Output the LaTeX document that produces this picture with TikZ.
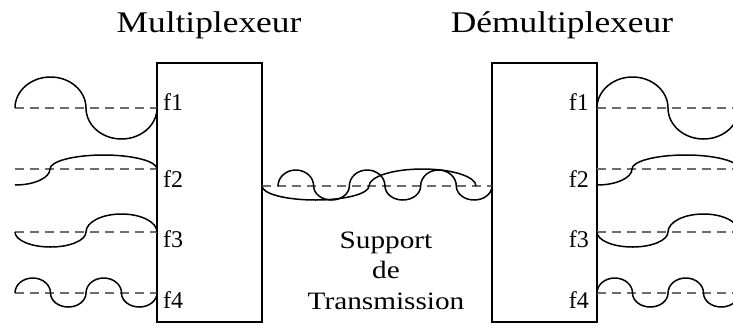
\documentclass[tikz,border=0pt]{standalone}
\usepackage{fontspec}
\setmainfont{Liberation Serif}
\newfontfamily\widefont[FakeStretch=1.18]{Liberation Serif}
\newfontfamily\midfont[FakeStretch=1.17]{Liberation Serif}
\tikzset{
  box/.style={draw, line width=1.6pt, minimum width=105pt, minimum height=259pt, inner sep=0pt, outer sep=0pt, anchor=north west},
  wave/.style={line width=1.5pt, black},
  dash line/.style={line width=1.3pt, gray!85!black, dash pattern=on 9pt off 6pt},
  flabel/.style={font=\fontsize{24}{24}\selectfont, inner sep=0pt},
  title/.style={font=\widefont\fontsize{30}{30}\selectfont, inner sep=0pt, anchor=base},
  midtext/.style={font=\midfont\fontsize{25}{25}\selectfont, inner sep=0pt, anchor=base}
}
\newcommand{\mywaveset}{%
  \draw[dash line] (15,108) -- (157,108);
  \draw[dash line] (15,169) -- (157,169);
  \draw[dash line] (15,232) -- (157,232);
  \draw[dash line] (15,293) -- (157,293);
  \draw[wave] (15,108) arc[start angle=180,end angle=0,x radius=35.5pt,y radius=31pt]
                       arc[start angle=180,end angle=360,x radius=35.5pt,y radius=31pt];
  \draw[wave] (15,185) arc[start angle=270,end angle=360,x radius=35pt,y radius=16pt]
                       arc[start angle=180,end angle=0,x radius=53.5pt,y radius=14pt];
  \draw[wave] (15,232) arc[start angle=180,end angle=360,x radius=35.5pt,y radius=15pt]
                       arc[start angle=180,end angle=0,x radius=35.5pt,y radius=18pt];
  \draw[wave] (15,293) arc[start angle=180,end angle=0,x radius=17.75pt,y radius=15pt]
                       arc[start angle=180,end angle=360,x radius=17.75pt,y radius=14pt]
                       arc[start angle=180,end angle=0,x radius=17.75pt,y radius=15pt]
                       arc[start angle=180,end angle=360,x radius=17.75pt,y radius=14pt];
}
\begin{document}
\begin{tikzpicture}[x=1pt, y=-1pt]
  \useasboundingbox (0,0) rectangle (733,327);
  \clip (0,0) rectangle (733,327);

  % titles
  \node[title] (tmux) at (209,32) {Multiplexeur};
  \node[title] (tdemux) at (562,32) {Démultiplexeur};

  % boxes
  \node[box] (mux) at (157,63) {};
  \node[box] (demux) at (492,63) {};

  % input / output waves
  \mywaveset
  \begin{scope}[xshift=582pt]
    \mywaveset
  \end{scope}

  % labels
  \node[flabel, anchor=base west] (lf1) at (163,110) {f1};
  \node[flabel, anchor=base west] (lf2) at (163,187) {f2};
  \node[flabel, anchor=base west] (lf3) at (163,247) {f3};
  \node[flabel, anchor=base west] (lf4) at (163,308) {f4};
  \node[flabel, anchor=base east] (rf1) at (589,110) {f1};
  \node[flabel, anchor=base east] (rf2) at (589,187) {f2};
  \node[flabel, anchor=base east] (rf3) at (589,247) {f3};
  \node[flabel, anchor=base east] (rf4) at (589,308) {f4};

  % transmission medium
  \coordinate (ma) at (262,186);
  \coordinate (mb) at (492,186);
  \draw[dash line] (ma) -- (mb);
  \draw[wave] (ma) arc[start angle=180,end angle=360,x radius=53.5pt,y radius=14pt]
                   arc[start angle=180,end angle=0,x radius=53.5pt,y radius=17pt];
  \draw[wave] (278,186)
     arc[start angle=180,end angle=0,x radius=17.83pt,y radius=16pt]
     arc[start angle=180,end angle=360,x radius=17.83pt,y radius=14pt]
     arc[start angle=180,end angle=0,x radius=17.83pt,y radius=16pt]
     arc[start angle=180,end angle=360,x radius=17.83pt,y radius=14pt]
     arc[start angle=180,end angle=0,x radius=17.83pt,y radius=16pt]
     arc[start angle=180,end angle=360,x radius=17.83pt,y radius=14pt];

  \node[midtext] (s1) at (386,248) {Support};
  \node[midtext] (s2) at (386,278) {de};
  \node[midtext] (s3) at (386,309) {Transmission};
\end{tikzpicture}
\end{document}
